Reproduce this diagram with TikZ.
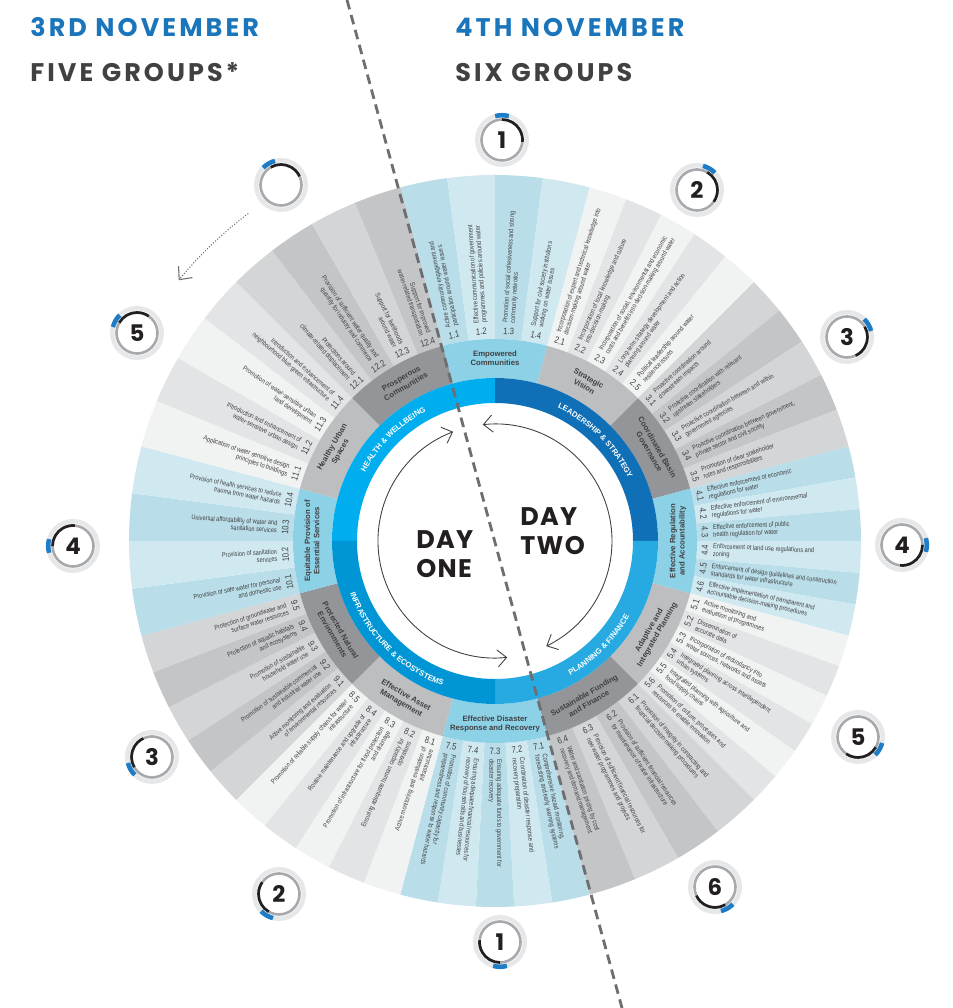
\documentclass[tikz,border=0pt]{standalone}
\usepackage{fontspec}
\setmainfont{Liberation Sans}
\newfontfamily\headfont[LetterSpace=12]{Poppins}
\newfontfamily\dayfont[LetterSpace=5]{Poppins}
\newfontfamily\itemfont[FakeStretch=0.82]{Liberation Sans}
\usetikzlibrary{arrows.meta,decorations.text}

\definecolor{dateblue}{HTML}{1B75BB}
\definecolor{inkdark}{HTML}{231F20}
\definecolor{inkgray}{HTML}{414042}
\definecolor{cutgray}{HTML}{6D6E71}
\definecolor{catblue}{HTML}{8DD1E7}
\definecolor{catlight}{HTML}{BCBEC0}
\definecolor{catdark}{HTML}{939598}
\definecolor{itemblueA}{HTML}{B9DEE9}
\definecolor{itemblueB}{HTML}{D0E9F1}
\definecolor{itemlightA}{HTML}{F1F2F2}
\definecolor{itemlightB}{HTML}{E3E4E5}
\definecolor{itemdarkA}{HTML}{D4D5D6}
\definecolor{itemdarkB}{HTML}{C3C5C7}
\definecolor{healthblue}{HTML}{00AEEF}
\definecolor{leadblue}{HTML}{0F70B7}
\definecolor{planblue}{HTML}{27AAE1}
\definecolor{infrablue}{HTML}{0096D6}
\definecolor{markring}{HTML}{E6E7E8}
\definecolor{markgray}{HTML}{A7A9AC}
\definecolor{markblue}{HTML}{1E7DC6}

\tikzset{
  heading/.style={font=\headfont\bfseries\fontsize{14.5}{16}\selectfont, anchor=base west, inner sep=0pt},
  daylabel/.style={font=\dayfont\bfseries\fontsize{14.5}{16.5}\selectfont, text=inkdark, align=left, anchor=west, inner sep=0pt},
  catlabel/.style={font=\bfseries\fontsize{4.4}{5.3}\selectfont, text=inkgray, align=center, inner sep=0pt},
  itemnum/.style={font=\itemfont\fontsize{5.3}{5.3}\selectfont, text=inkgray, inner sep=0pt},
  itemtext/.style={font=\itemfont\fontsize{3.9}{4.3}\selectfont, text=inkgray, inner sep=0pt},
  marknum/.style={font=\dayfont\bfseries\fontsize{13}{13}\selectfont, text=inkdark, inner sep=0pt},
  cyclearrow/.style={draw=inkgray, line width=0.5pt, {Straight Barb[length=1.8mm,width=3.4mm]}-{Straight Barb[length=1.8mm,width=3.4mm]}},
  shiftarrow/.style={draw=cutgray, line width=0.6pt, densely dotted, -{Straight Barb[length=2mm,width=3.6mm]}},
  cutline/.style={draw=cutgray, line width=1.6pt, dash pattern=on 5.5pt off 3.3pt},
  ringtext/.style={decorate, decoration={text along path, text align=center, text color=white,
    text={|\bfseries\fontsize{4.4}{5}\selectfont|#1}}}
}

% annular piece: from, to, inner radius, outer radius, colour
\newcommand{\ringband}[5]{\fill[fill=#5] (#1:#3) arc[start angle=#1, end angle=#2, radius=#3]
  -- (#2:#4) arc[start angle=#2, end angle=#1, radius=#4] -- cycle;}

% one indicator of the outer ring
\newcommand{\ringitem}[6]{%
  \ringband{#2}{#3}{202}{366}{#4}
  \pgfmathsetmacro\wm{(#2+#3)/2}
  \pgfmathsetmacro\wn{\wm>0 ? \wm-90 : \wm+90}
  \pgfmathtruncatemacro\wside{and(\wm>-105,\wm<105)}
  \node[itemnum, rotate=\wn] (#1-num) at (\wm:210) {#5};
  \ifnum\wside=1
    \node[itemtext, align=left, anchor=west, rotate=\wm] (#1) at (\wm:218) {#6};
  \else
    \node[itemtext, align=right, anchor=east, rotate=\wm+180] (#1) at (\wm:218) {#6};
  \fi}

% all indicators of one goal
\newcommand{\wheelgroup}[6]{%
  \foreach \inum/\itxt [count=\i from 0] in {#6}{%
    \pgfmathsetmacro\wa{#2+15-\i*30/#3}
    \pgfmathsetmacro\wb{\wa-30/#3}
    \ifodd\i\relax \def\wcol{#5}\else \def\wcol{#4}\fi
    \ringitem{item#1-\i}{\wa}{\wb}{\wcol}{\inum}{\itxt}}}

\begin{document}
\begin{tikzpicture}[x=0.02cm, y=0.02cm]
  \useasboundingbox (0,0) rectangle (953,1008);
  \fill[white] (0,0) rectangle (953,1008);

  % headings
  \node[heading, text=dateblue] (dayonedate) at (30,971) {3RD NOVEMBER};
  \node[heading, text=inkgray] (dayonegroups) at (30,926) {FIVE GROUPS*};
  \node[heading, text=dateblue] (daytwodate) at (455,971) {4TH NOVEMBER};
  \node[heading, text=inkgray] (daytwogroups) at (455,926) {SIX GROUPS};

  \begin{scope}[shift={(495,467)}]

    % outer ring: indicators
    \wheelgroup{1}{90}{4}{itemblueA}{itemblueB}{%
      1.1/{Active community engagement and\\participation around water issues},
      1.2/{Effective communication of government\\programmes and policies around water},
      1.3/{Promotion of social cohesiveness and strong\\community networks},
      1.4/{Support for civil society institutions\\working on water issues}}
    \wheelgroup{2}{60}{5}{itemlightA}{itemlightB}{%
      2.1/{Incorporation of expert and technical knowledge into\\decision-making around water},
      2.2/{Incorporation of local knowledge and culture\\into decision-making},
      2.3/{Incorporation of social, environmental and economic\\costs and benefits into decision-making around water},
      2.4/{Long-term strategy development and action\\planning around water},
      2.5/{Political leadership around water\\resilience issues}}
    \wheelgroup{3}{30}{5}{itemdarkA}{itemdarkB}{%
      3.1/{Proactive coordination around\\downstream impacts},
      3.2/{Proactive coordination with relevant\\upstream stakeholders},
      3.3/{Proactive coordination between and within\\government agencies},
      3.4/{Proactive coordination between government,\\private sector and civil society},
      3.5/{Promotion of clear stakeholder\\roles and responsibilities}}
    \wheelgroup{4}{0}{6}{itemblueA}{itemblueB}{%
      4.1/{Effective enforcement of economic\\regulations for water},
      4.2/{Effective enforcement of environmental\\regulations for water},
      4.3/{Effective enforcement of public\\health regulation for water},
      4.4/{Enforcement of land use regulations and\\zoning},
      4.5/{Enforcement of design guidelines and construction\\standards for water infrastructure},
      4.6/{Effective implementation of transparent and\\accountable decision-making procedures}}
    \wheelgroup{5}{-30}{6}{itemlightA}{itemlightB}{%
      5.1/{Active monitoring and\\evaluation of programmes},
      5.2/{Dissemination of\\accurate data},
      5.3/{Incorporation of redundancy into\\water sources, networks and assets},
      5.4/{Integrated planning across interdependent\\urban systems},
      5.5/{Integrated planning with agriculture and\\food supply chains},
      5.6/{Promotion of culture, processes and\\resources to enable innovation}}
    \wheelgroup{6}{-60}{4}{itemdarkA}{itemdarkB}{%
      6.1/{Promotion of integrity in contracting and\\financial decision-making procedures},
      6.2/{Provision of sufficient financial resources\\for maintenance of water infrastructure},
      6.3/{Provision of sufficient financial resources for\\new water programmes and projects},
      6.4/{Water and sanitation pricing by cost\\recovery and demand management}}
    \wheelgroup{7}{-90}{5}{itemblueA}{itemblueB}{%
      7.1/{Comprehensive hazard monitoring,\\forecasting and early warning systems},
      7.2/{Coordination of disaster response and\\recovery preparation},
      7.3/{Ensuring adequate funds to government for\\disaster recovery},
      7.4/{Ensuring adequate financial resources for\\recovery of households and businesses},
      7.5/{Promotion of community capacity for\\preparedness and response to water hazards}}
    \wheelgroup{8}{-120}{5}{itemlightA}{itemlightB}{%
      8.1/{Active monitoring and evaluation of\\infrastructure},
      8.2/{Ensuring adequate human capacity for\\operations},
      8.3/{Promotion of infrastructure for flood protection\\and drainage},
      8.4/{Routine maintenance and upgrade of\\infrastructure},
      8.5/{Promotion of reliable supply chains for water\\infrastructure}}
    \wheelgroup{9}{-150}{5}{itemdarkA}{itemdarkB}{%
      9.1/{Active monitoring and evaluation\\of environmental resources},
      9.2/{Promotion of sustainable commercial\\and industrial water use},
      9.3/{Promotion of sustainable\\household water use},
      9.4/{Protection of aquatic habitats\\and ecosystems},
      9.5/{Protection of groundwater and\\surface water resources}}
    \wheelgroup{10}{180}{4}{itemblueA}{itemblueB}{%
      10.1/{Provision of safe water for personal\\and domestic use},
      10.2/{Provision of sanitation\\services},
      10.3/{Universal affordability of water and\\sanitation services},
      10.4/{Provision of health services to reduce\\trauma from water hazards}}
    \wheelgroup{11}{150}{4}{itemlightA}{itemlightB}{%
      11.1/{Application of water sensitive design\\principles to buildings},
      11.2/{Introduction and enhancement of\\water-sensitive urban design},
      11.3/{Promotion of water-sensitive urban\\land development},
      11.4/{Introduction and enhancement of\\neighbourhood blue-green infrastructure}}
    \wheelgroup{12}{120}{4}{itemdarkA}{itemdarkB}{%
      12.1/{Protections around\\climate-related displacement},
      12.2/{Provision of sufficient water quality and\\quantity for industry and commerce},
      12.3/{Support for livelihoods\\around water},
      12.4/{Support for improved\\water-related transportation}}

    % middle ring: goals
    \foreach \c/\ccol/\clab [count=\k] in {90/catblue/{Empowered\\Communities},
        60/catlight/{Strategic\\Vision}, 30/catdark/{Coordinated Basin\\Governance},
        0/catblue/{Effective Regulation\\and Accountability}, -30/catlight/{Adaptive and\\Integrated Planning},
        -60/catdark/{Sustainable Funding\\and Finance}, -90/catblue/{Effective Disaster\\Response and Recovery},
        -120/catlight/{Effective Asset\\Management}, -150/catdark/{Protected Natural\\Environments},
        180/catblue/{Equitable Provision of\\Essential Services}, 150/catlight/{Healthy Urban\\Spaces},
        120/catdark/{Prosperous\\Communities}}{
      \pgfmathsetmacro\ca{\c+15}
      \pgfmathsetmacro\cb{\c-15}
      \pgfmathsetmacro\crot{\c>0 ? \c-90 : \c+90}
      \ringband{\ca}{\cb}{163}{202}{\ccol}
      \node[catlabel, rotate=\crot] (goal\k) at (\c:183) {\clab};
    }

    % inner ring: dimensions
    \ringband{90}{180}{138}{163}{healthblue}
    \ringband{0}{90}{138}{163}{leadblue}
    \ringband{-90}{0}{138}{163}{planblue}
    \ringband{180}{270}{138}{163}{infrablue}
    \path[ringtext={HEALTH {\&} WELLBEING}] (172:147) arc[start angle=172, end angle=98, radius=147];
    \path[ringtext={LEADERSHIP {\&} STRATEGY}] (82:147) arc[start angle=82, end angle=8, radius=147];
    \path[ringtext={PLANNING {\&} FINANCE}] (-82:154) arc[start angle=-82, end angle=-8, radius=154];
    \path[ringtext={INFRASTRUCTURE {\&} ECOSYSTEMS}] (188:154) arc[start angle=188, end angle=262, radius=154];

    % the two days
    \draw[cyclearrow] (111:117) arc[start angle=111, end angle=276, radius=117];
    \draw[cyclearrow] (96:117) arc[start angle=96, end angle=-64, radius=117];

    % group moved on day one
    \draw[shiftarrow] (127:410) arc[start angle=127, end angle=140.5, radius=410];
  \end{scope}

  \node[daylabel] (dayone) at (416,454) {DAY\\ONE};
  \node[daylabel] (daytwo) at (520,477) {DAY\\TWO};

  % split between the days
  \coordinate (cuttop) at (347,1008);
  \coordinate (cutbottom) at (622,0);
  \draw[cutline] (cuttop) -- (cutbottom);

  % group markers
  \foreach \mx/\my/\ma/\ml [count=\m] in {502/868/90/1, 697/818/60/2, 847/671/30/3, 902/463/0/4,
      858/271/-30/5, 715/121/-60/6, 137/675/150/5, 73/462/180/4, 152/251/-150/3,
      279/114/-120/2, 500/66/-90/1, 281/823/120/{}}{
    \begin{scope}[shift={(\mx,\my)}]
      \pgfmathsetmacro\mb{\ma+16}
      \fill[markring] (0,0) circle[radius=27];
      \fill[white] (0,0) circle[radius=22.5];
      \draw[markgray, line width=1.5pt] (0,0) circle[radius=20.5];
      \draw[inkdark, line width=1.5pt] (\ma:20.5) arc[start angle=\ma, delta angle=-95, radius=20.5];
      \draw[markblue, line width=2.6pt] (\mb:24.8) arc[start angle=\mb, delta angle=-32, radius=24.8];
      \node[marknum] (mark\m) at (0,0) {\ml};
    \end{scope}
  }
\end{tikzpicture}
\end{document}
